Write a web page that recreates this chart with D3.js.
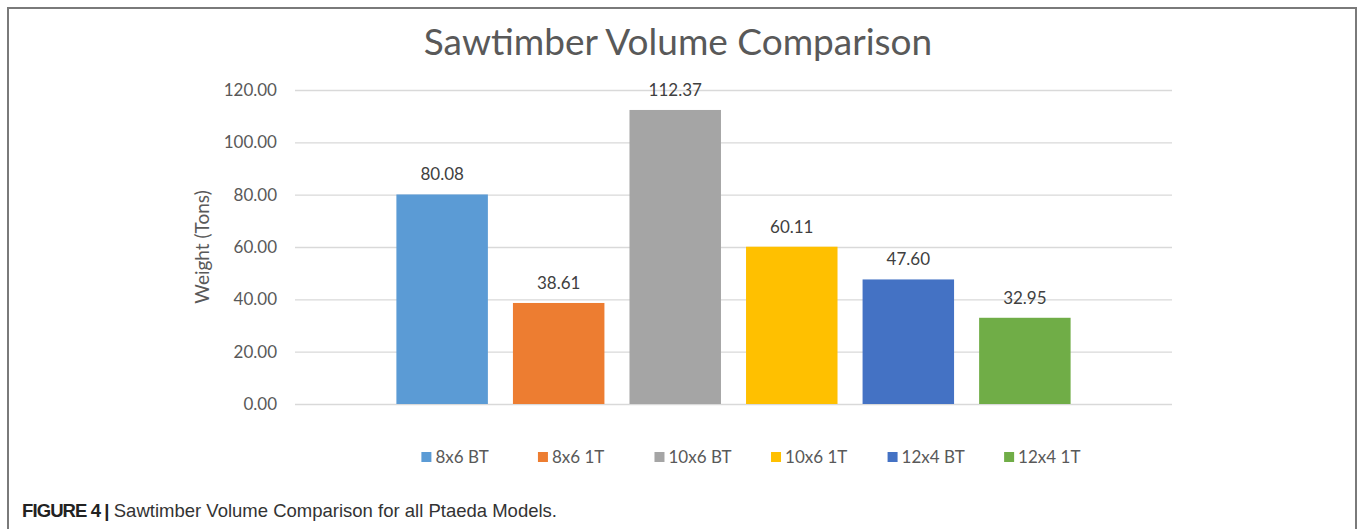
<!DOCTYPE html>
<html><head><meta charset="utf-8">
<script src="https://cdn.jsdelivr.net/npm/d3@7"></script>
<style>
html,body{margin:0;padding:0;background:#fff;}
svg{display:block;}
</style></head>
<body>
<script>
const seriesNames = ["8x6 BT","8x6 1T","10x6 BT","10x6 1T","12x4 BT","12x4 1T"];
const seriesValues = [80.08, 38.61, 112.37, 60.11, 47.60, 32.95];
const seriesColors = ["#5B9BD5","#ED7D31","#A5A5A5","#FFC000","#4472C4","#70AD47"];
const yTicks = [0,20,40,60,80,100,120];
const titleText = "Sawtimber Volume Comparison";
const yAxisTitle = "Weight (Tons)";
const captionBold = "FIGURE 4 |";
const captionText = " Sawtimber Volume Comparison for all Ptaeda Models.";

const W = 1358, H = 529;
const font = "Lato, 'Open Sans', sans-serif";
const svg = d3.select("body").append("svg").attr("width", W).attr("height", H);

// frame
svg.append("path").attr("d", `M8,${H+2} L8,8 L1356,8 L1356,${H+2}`)
  .attr("fill","none").attr("stroke","#7a7a7a").attr("stroke-width",2);

const plotL = 295, plotR = 1172, plotT = 90, plotB = 404;
const y = d3.scaleLinear().domain([0,120]).range([plotB, plotT]);
const x = d3.scaleBand().domain(seriesNames).range([plotL, plotR]).paddingInner(0.215).paddingOuter(0.87);

// title
svg.append("text").attr("x", 678).attr("y", 55).attr("text-anchor","middle")
  .attr("font-family", font).attr("font-size", 37).attr("fill","#595959").text(titleText);

// grid + y axis
const yAxis = d3.axisLeft(y).tickValues(yTicks).tickFormat(d3.format(".2f")).tickSize(-(plotR-plotL)).tickPadding(18);
const gy = svg.append("g").attr("transform", `translate(${plotL},0)`).call(yAxis);
gy.select(".domain").remove();
gy.selectAll(".tick line").attr("stroke","#d9d9d9").attr("stroke-width",1.3);
gy.selectAll(".tick text").attr("font-family", font).attr("font-size", 17).attr("fill","#595959");

// y axis title
svg.append("text").attr("transform", `translate(209,${(plotT+plotB)/2}) rotate(-90)`)
  .attr("text-anchor","middle").attr("font-family", font).attr("font-size", 19).attr("fill","#595959").text(yAxisTitle);

// bars
const data = seriesNames.map((n,i)=>({name:n, value:seriesValues[i], color:seriesColors[i]}));
svg.append("g").selectAll("rect").data(data).join("rect")
  .attr("x", d=>x(d.name)).attr("width", x.bandwidth())
  .attr("y", d=>y(d.value)).attr("height", d=>y(0)-y(d.value))
  .attr("fill", d=>d.color);

// labels
svg.append("g").selectAll("text").data(data).join("text")
  .attr("x", d=>x(d.name)+x.bandwidth()/2).attr("y", d=>y(d.value)-14)
  .attr("text-anchor","middle").attr("font-family", font).attr("font-size", 17).attr("fill","#404040")
  .text(d=>d3.format(".2f")(d.value));

// legend
const lg = svg.append("g").selectAll("g").data(data).join("g")
  .attr("transform", d=>`translate(${x(d.name)+25},457)`);
lg.append("rect").attr("x",0).attr("y",-5).attr("width",10).attr("height",10).attr("fill", d=>d.color);
lg.append("text").attr("x",14).attr("y",0).attr("dy","0.35em").attr("font-family", font).attr("font-size", 17).attr("fill","#595959").text(d=>d.name);

// caption
const cap = svg.append("text").attr("x", 22).attr("y", 517).attr("font-family","'Liberation Sans', Arial, sans-serif").attr("font-size", 18.5).attr("fill","#333");
cap.append("tspan").attr("font-weight","bold").attr("fill","#222").attr("letter-spacing", -0.9).text(captionBold);
cap.append("tspan").text(captionText);
</script>
</body></html>
